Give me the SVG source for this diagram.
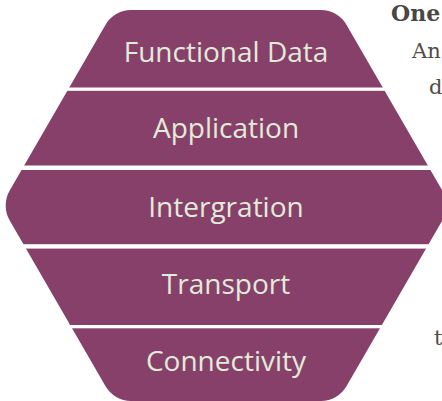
<svg xmlns="http://www.w3.org/2000/svg" width="442" height="401" viewBox="0 0 442 401">
  <style>
    .band { fill: #87406a; }
    .label { font-family: "Open Sans", "Noto Sans", sans-serif; font-size: 28px; font-weight: 500; fill: #e2ebd9; text-anchor: middle; }
    .side { font-family: "DejaVu Serif", "Liberation Serif", serif; font-size: 21px; fill: #514c46; }
    .side-bold { font-weight: bold; font-size: 22px; fill: #4a4641; }
  </style>
  <defs>
    <!-- rounded hexagon outline shared by all layers -->
    <clipPath id="hex">
      <path d="M131,10 L321,10 A30,30 0 0 1 346.6,25 L442,190 A30,30 0 0 1 442,221 L346.6,386 A30,30 0 0 1 321,401 L131,401 A30,30 0 0 1 105.4,386 L10,221 A30,30 0 0 1 10,190 L105.4,25 A30,30 0 0 1 131,10 Z"/>
    </clipPath>
  </defs>

  <rect width="442" height="401" fill="#ffffff"/>

  <g clip-path="url(#hex)">
    <g id="functional-data">
      <rect class="band" x="0" y="0" width="460" height="87.5"/>
      <text class="label" x="226" y="62">Functional Data</text>
    </g>
    <g id="application">
      <rect class="band" x="0" y="90.8" width="460" height="74.7"/>
      <text class="label" x="226" y="138">Application</text>
    </g>
    <g id="integration">
      <rect class="band" x="0" y="170" width="460" height="74.2"/>
      <text class="label" x="226" y="217">Intergration</text>
    </g>
    <g id="transport">
      <rect class="band" x="0" y="248.6" width="460" height="76.4"/>
      <text class="label" x="226" y="294">Transport</text>
    </g>
    <g id="connectivity">
      <rect class="band" x="0" y="328.3" width="460" height="80"/>
      <text class="label" x="226" y="371">Connectivity</text>
    </g>
  </g>

  <!-- side paragraph, wrapped along the hexagon edge -->
  <g id="side-text">
    <text class="side side-bold" x="391" y="21">One</text>
    <text class="side" x="412" y="58">An</text>
    <text class="side" x="429" y="94">d</text>
    <text class="side" x="434" y="345">t</text>
  </g>
</svg>
